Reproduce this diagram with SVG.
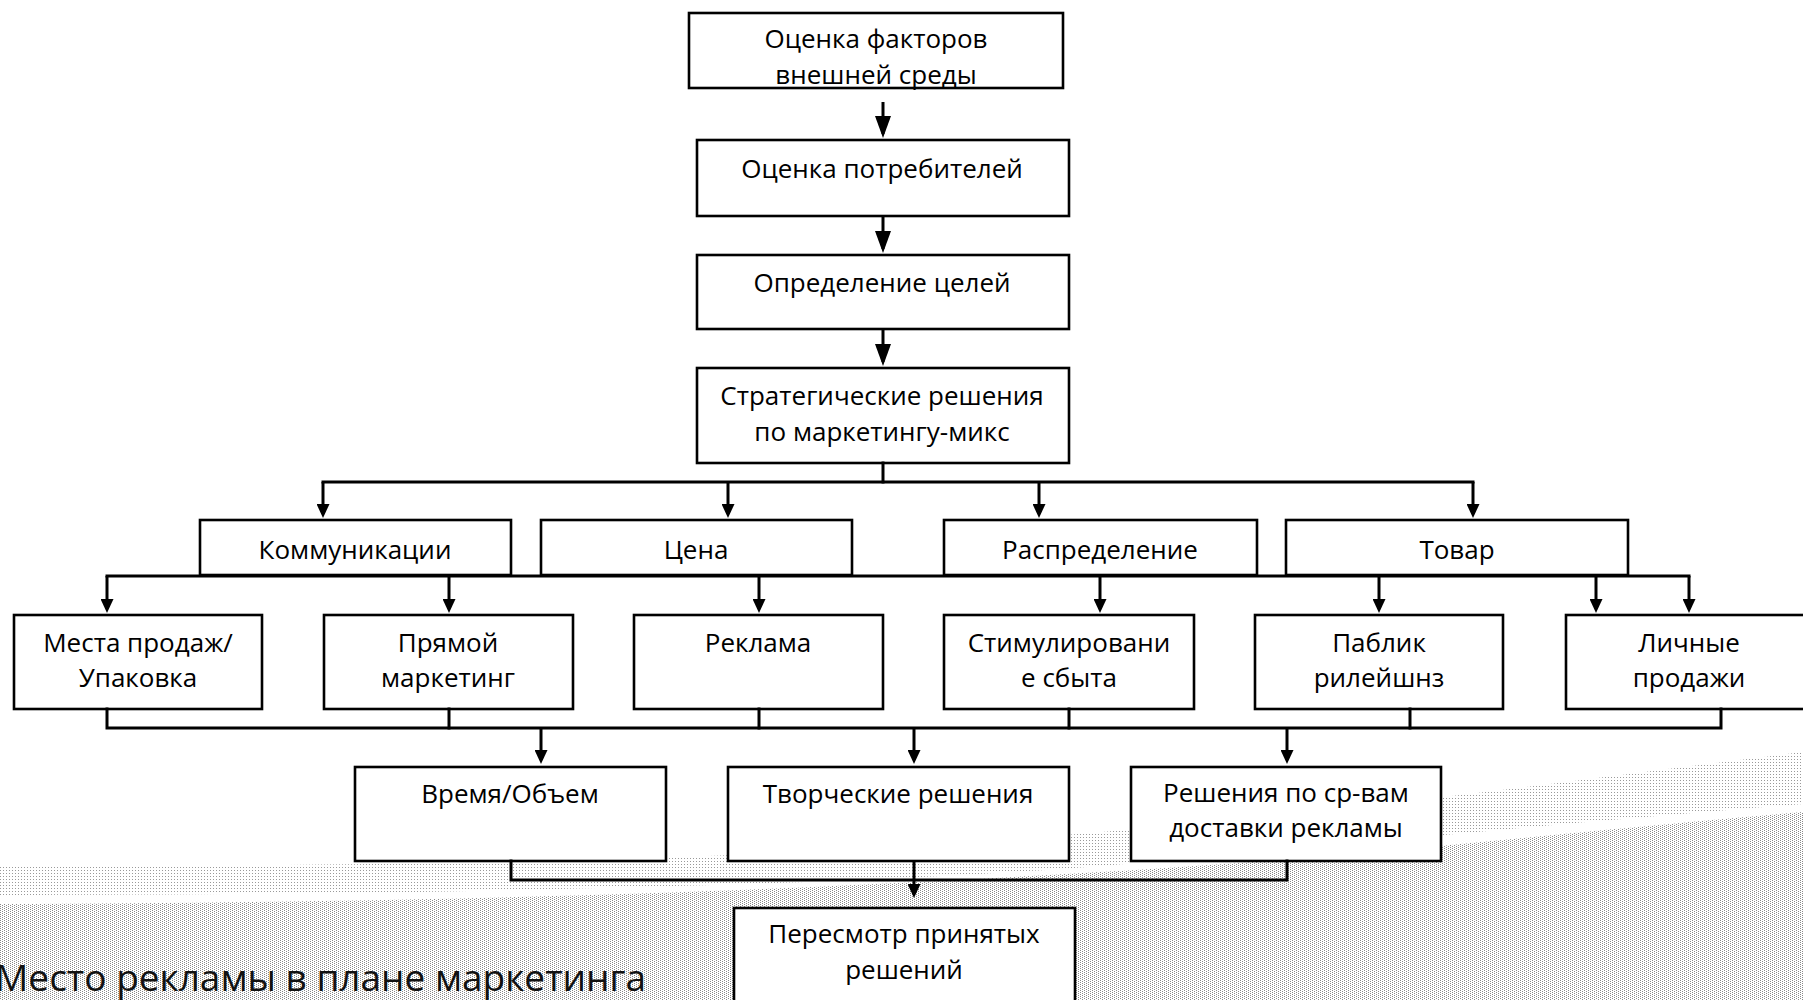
<svg xmlns="http://www.w3.org/2000/svg" width="1803" height="1000" viewBox="0 0 1803 1000">
<defs>
<style>
.box{fill:#fff;stroke:#000;stroke-width:2.6}
.t{font-family:"Open Sans","Noto Sans","DejaVu Sans",sans-serif;font-size:26px;fill:#000;text-anchor:middle}
.title{font-family:"Open Sans","Noto Sans","DejaVu Sans",sans-serif;font-size:37px;fill:#111;text-anchor:end}
.c{fill:none;stroke:#000;stroke-width:3;stroke-linecap:square;stroke-linejoin:miter}
.a{fill:none;stroke:#000;stroke-width:3;marker-end:url(#ah)}
.A{fill:none;stroke:#000;stroke-width:3;marker-end:url(#AH)}
</style>
<marker id="ah" markerUnits="userSpaceOnUse" markerWidth="14" markerHeight="13" viewBox="0 0 14 13" refX="10" refY="6.5" orient="auto"><path d="M0,0 L14,6.5 L0,13 Z" fill="#000"/></marker>
<marker id="AH" markerUnits="userSpaceOnUse" markerWidth="22" markerHeight="16" viewBox="0 0 22 16" refX="18" refY="8" orient="auto"><path d="M0,0 L22,8 L0,16 Z" fill="#000"/></marker>
<pattern id="dense" width="4" height="2" patternUnits="userSpaceOnUse"><rect x="0" y="0" width="1" height="1" fill="#888"/><rect x="2" y="1" width="1" height="1" fill="#888"/></pattern>
<pattern id="sparse" width="3" height="3" patternUnits="userSpaceOnUse"><rect x="0" y="0" width="1" height="1" fill="#999"/></pattern>
</defs>
<rect x="0" y="0" width="1803" height="1000" fill="#fff"/>
<g id="background">
<path d="M0,866 C400,866 700,862 1000,840 S1500,790 1803,752 L1803,804 C1500,828 1300,850 1100,866 S500,895 0,895 Z" fill="url(#sparse)"/>
<path d="M0,904 C500,902 800,890 1100,872 S1500,838 1803,812 L1803,1000 L0,1000 Z" fill="url(#dense)"/>
</g>
<text class="title" x="646" y="991">Место рекламы в плане маркетинга</text>
<g id="n1"><rect class="box" x="689" y="13" width="374" height="75"/><text class="t" x="876" y="48">Оценка факторов</text><text class="t" x="876" y="84">внешней среды</text></g>
<g id="n2"><rect class="box" x="697" y="140" width="372" height="76"/><text class="t" x="882" y="178">Оценка потребителей</text></g>
<g id="n3"><rect class="box" x="697" y="255" width="372" height="74"/><text class="t" x="882" y="292">Определение целей</text></g>
<g id="n4"><rect class="box" x="697" y="368" width="372" height="95"/><text class="t" x="882" y="405">Стратегические решения</text><text class="t" x="882" y="441">по маркетингу-микс</text></g>
<g id="n5"><rect class="box" x="200" y="520" width="311" height="55"/><text class="t" x="355" y="559">Коммуникации</text></g>
<g id="n6"><rect class="box" x="541" y="520" width="311" height="55"/><text class="t" x="696" y="559">Цена</text></g>
<g id="n7"><rect class="box" x="944" y="520" width="313" height="55"/><text class="t" x="1100" y="559">Распределение</text></g>
<g id="n8"><rect class="box" x="1286" y="520" width="342" height="55"/><text class="t" x="1457" y="559">Товар</text></g>
<g id="n9"><rect class="box" x="14" y="615" width="248" height="94"/><text class="t" x="138" y="652">Места продаж/</text><text class="t" x="138" y="687">Упаковка</text></g>
<g id="n10"><rect class="box" x="324" y="615" width="249" height="94"/><text class="t" x="448" y="652">Прямой</text><text class="t" x="448" y="687">маркетинг</text></g>
<g id="n11"><rect class="box" x="634" y="615" width="249" height="94"/><text class="t" x="758" y="652">Реклама</text></g>
<g id="n12"><rect class="box" x="944" y="615" width="250" height="94"/><text class="t" x="1069" y="652">Стимулировани</text><text class="t" x="1069" y="687">е сбыта</text></g>
<g id="n13"><rect class="box" x="1255" y="615" width="248" height="94"/><text class="t" x="1379" y="652">Паблик</text><text class="t" x="1379" y="687">рилейшнз</text></g>
<g id="n14"><rect class="box" x="1566" y="615" width="248" height="94"/><text class="t" x="1689" y="652">Личные</text><text class="t" x="1689" y="687">продажи</text></g>
<g id="n15"><rect class="box" x="355" y="767" width="311" height="94"/><text class="t" x="510" y="803">Время/Объем</text></g>
<g id="n16"><rect class="box" x="728" y="767" width="341" height="94"/><text class="t" x="898" y="803">Творческие решения</text></g>
<g id="n17"><rect class="box" x="1131" y="767" width="310" height="94"/><text class="t" x="1286" y="802">Решения по ср-вам</text><text class="t" x="1286" y="837">доставки рекламы</text></g>
<g id="n18"><rect class="box" x="734" y="908" width="341" height="110"/><text class="t" x="904" y="943">Пересмотр принятых</text><text class="t" x="904" y="979">решений</text></g>
<g id="connectors">
<path class="A" d="M883,102 V134"/>
<path class="A" d="M883,216 V249"/>
<path class="A" d="M883,329 V362"/>
<path class="c" d="M883,463 V482"/>
<path class="c" d="M323,482 H1473"/>
<path class="a" d="M323,482 V514"/>
<path class="a" d="M728,482 V514"/>
<path class="a" d="M1039,482 V514"/>
<path class="a" d="M1473,482 V514"/>
<path class="c" d="M107,576 H1689"/>
<path class="a" d="M107,576 V609"/>
<path class="a" d="M449,576 V609"/>
<path class="a" d="M759,576 V609"/>
<path class="a" d="M1100,576 V609"/>
<path class="a" d="M1379,576 V609"/>
<path class="a" d="M1596,576 V609"/>
<path class="a" d="M1689,576 V609"/>
<path class="c" d="M107,709 V728 H1721 V709"/>
<path class="c" d="M449,709 V728"/>
<path class="c" d="M759,709 V728"/>
<path class="c" d="M1069,709 V728"/>
<path class="c" d="M1410,709 V728"/>
<path class="a" d="M541,728 V760"/>
<path class="a" d="M914,728 V760"/>
<path class="a" d="M1287,728 V760"/>
<path class="c" d="M511,861 V880 H1287 V861"/>
<path class="a" d="M914,861 V894"/>
</g>
</svg>
